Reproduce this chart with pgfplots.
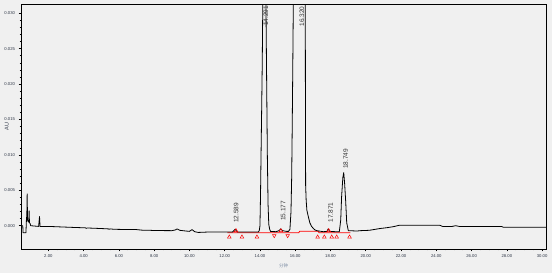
\documentclass[border=0pt]{standalone}
\usepackage{fontspec}
\setmainfont{Liberation Sans}
\newfontfamily\cjk{Noto Sans CJK SC}
\usepackage{pgfplots}
\pgfplotsset{compat=1.18}
\definecolor{bg}{HTML}{F0F0F0}
\definecolor{lab}{HTML}{7F8FA6}
\definecolor{tl}{HTML}{303848}
\begin{document}
\begin{tikzpicture}
\fill[bg] (-21pt,-24pt) rectangle (531pt,249pt);
\begin{axis}[
  at={(0pt,0pt)}, anchor=south west,
  scale only axis, width=525pt, height=244.7pt,
  xmin=0.45, xmax=30.22, ymin=-0.00329, ymax=0.03127,
  clip mode=individual,
  axis line style={line width=0.8pt},
  tick pos=left, tick align=outside,
  major tick length=2.5pt, minor tick length=1.5pt,
  every tick/.style={black, line width=0.6pt},
  xtick={2,4,...,30}, minor x tick num=3,
  ytick={0,0.005,0.01,0.015,0.02,0.025,0.03}, minor y tick num=4,
  scaled y ticks=false, scaled x ticks=false,
  /pgf/number format/assume math mode=true,
  xticklabel style={font=\fontsize{4.2}{4.2}\selectfont, text=tl, /pgf/number format/.cd, fixed, fixed zerofill, precision=2},
  yticklabel style={font=\fontsize{4.2}{4.2}\selectfont, text=tl, /pgf/number format/.cd, fixed, fixed zerofill, precision=3},
  xlabel={\cjk 分钟},
  xlabel style={font=\fontsize{4.5}{5}\selectfont, text=lab, at={(axis description cs:0.5,0)}, anchor=center, yshift=-17pt},
]
% red integration baseline
\addplot[red, line width=0.8pt] coordinates {
(12.15,-0.0010) (16.20,-0.0010) (16.25,-0.00078) (17.30,-0.00078) (17.35,-0.0010) (19.12,-0.0010)
};
% chromatogram
\addplot[black, line width=0.8pt, line join=round] coordinates {
(0.45,0.0000) (0.55,0.0000) (0.57,-0.0010) (0.73,-0.0010) (0.76,0.0010) (0.78,0.0014)
(0.80,0.0045) (0.82,0.0008) (0.85,0.0006) (0.89,0.0005) (0.91,0.0021) (0.93,0.0004)
(0.97,0.0003) (1.00,0.0000) (1.45,-0.0001) (1.50,0.0013) (1.53,-0.0001) (2.00,-0.0001)
(2.50,-0.00015) (3.00,-0.0002) (3.50,-0.00025) (4.10,-0.0003) (4.15,-0.00038) (4.20,-0.00032)
(5.00,-0.0004) (5.40,-0.00045) (5.45,-0.0005) (5.50,-0.00045) (5.70,-0.0005) (6.00,-0.00052)
(7.00,-0.00055) (7.40,-0.00065) (7.60,-0.00063) (8.00,-0.00068) (9.00,-0.0007) (9.20,-0.0006)
(9.30,-0.00045) (9.45,-0.00065) (9.80,-0.00075) (10.00,-0.0008) (10.15,-0.00055) (10.30,-0.00085)
(10.50,-0.00095) (11.00,-0.0009) (12.00,-0.00088) (12.45,-0.00088) (12.59,-0.0005) (12.72,-0.00088)
(13.60,-0.0009) (13.90,-0.0009) (13.96,-0.0007) (14.00,0.0000) (14.03,0.0040) (14.06,0.0097)
(14.10,0.0170) (14.13,0.0230) (14.16,0.0310) (14.20,0.0400) (14.25,0.0450) (14.30,0.0400)
(14.34,0.0310) (14.37,0.0230) (14.40,0.0150) (14.42,0.0097) (14.46,0.0030) (14.50,0.0002)
(14.55,-0.0005) (14.60,-0.0008) (14.90,-0.00085) (15.08,-0.0007) (15.18,-0.00045) (15.28,-0.0007)
(15.50,-0.0008) (15.62,-0.0008) (15.70,-0.0005) (15.76,0.0020) (15.80,0.0070) (15.83,0.0141)
(15.86,0.0220) (15.89,0.0310) (15.93,0.0400) (16.30,0.0500) (16.56,0.0400) (16.57,0.0310)
(16.58,0.0150) (16.59,0.0057) (16.62,0.0036) (16.66,0.0022) (16.74,0.0013) (16.83,0.0004)
(16.93,-0.0001) (17.03,-0.0004) (17.12,-0.0006) (17.22,-0.0007) (17.60,-0.00085) (17.80,-0.0008)
(17.87,-0.00045) (17.95,-0.0008) (18.30,-0.00085) (18.50,-0.00085) (18.58,0.0008) (18.63,0.0041)
(18.70,0.0068) (18.75,0.0075) (18.80,0.0060) (18.86,0.0035) (18.92,0.0004) (19.01,-0.0007)
(19.50,-0.00075) (19.70,-0.0007) (20.20,-0.00065) (20.80,-0.0004) (21.20,-0.00028) (21.56,-0.00014)
(21.90,0.00006) (24.20,0.00006) (24.35,-0.0001) (24.90,-0.0001) (25.10,0.0000) (25.30,-0.0001)
(27.70,-0.0001) (27.80,-0.00023) (30.22,-0.00023)
};
% peak start/end markers
\addplot[only marks, red, mark=triangle, mark size=2.1pt, mark options={line width=0.5pt}] coordinates {
(12.26,-0.0016) (12.98,-0.0016) (13.83,-0.0016) (17.27,-0.0016) (17.65,-0.0016)
(18.07,-0.0016) (18.35,-0.0016) (19.08,-0.0016)
(12.64,-0.0007) (15.19,-0.0007) (17.90,-0.0007)
};
\addplot[only marks, red, mark=triangle, mark size=2.1pt, mark options={line width=0.5pt, rotate=180}] coordinates {
(14.81,-0.0014) (15.57,-0.0014)
};
% y axis label
\node[font=\fontsize{5.5}{6}\selectfont, text=tl, rotate=90, anchor=center, inner sep=0pt]
  at ([xshift=-14.3pt]axis description cs:0,0.5) {AU};
% peak labels
\begin{scope}[every node/.style={font=\fontsize{6.5}{7}\selectfont, text=black!80, rotate=90, anchor=west, inner sep=0pt}]
\node at (axis cs:12.65,0.0004) {12.589};
\node at (axis cs:14.33,0.0282) {14.291};
\node at (axis cs:15.32,0.00066) {15.177};
\node at (axis cs:16.38,0.0281) {16.320};
\node at (axis cs:18.01,0.00042) {17.871};
\node at (axis cs:18.86,0.0080) {18.749};
\end{scope}
\end{axis}
\pgfresetboundingbox
\path (-21pt,-24pt) rectangle (531pt,249pt);
\end{tikzpicture}
\end{document}
